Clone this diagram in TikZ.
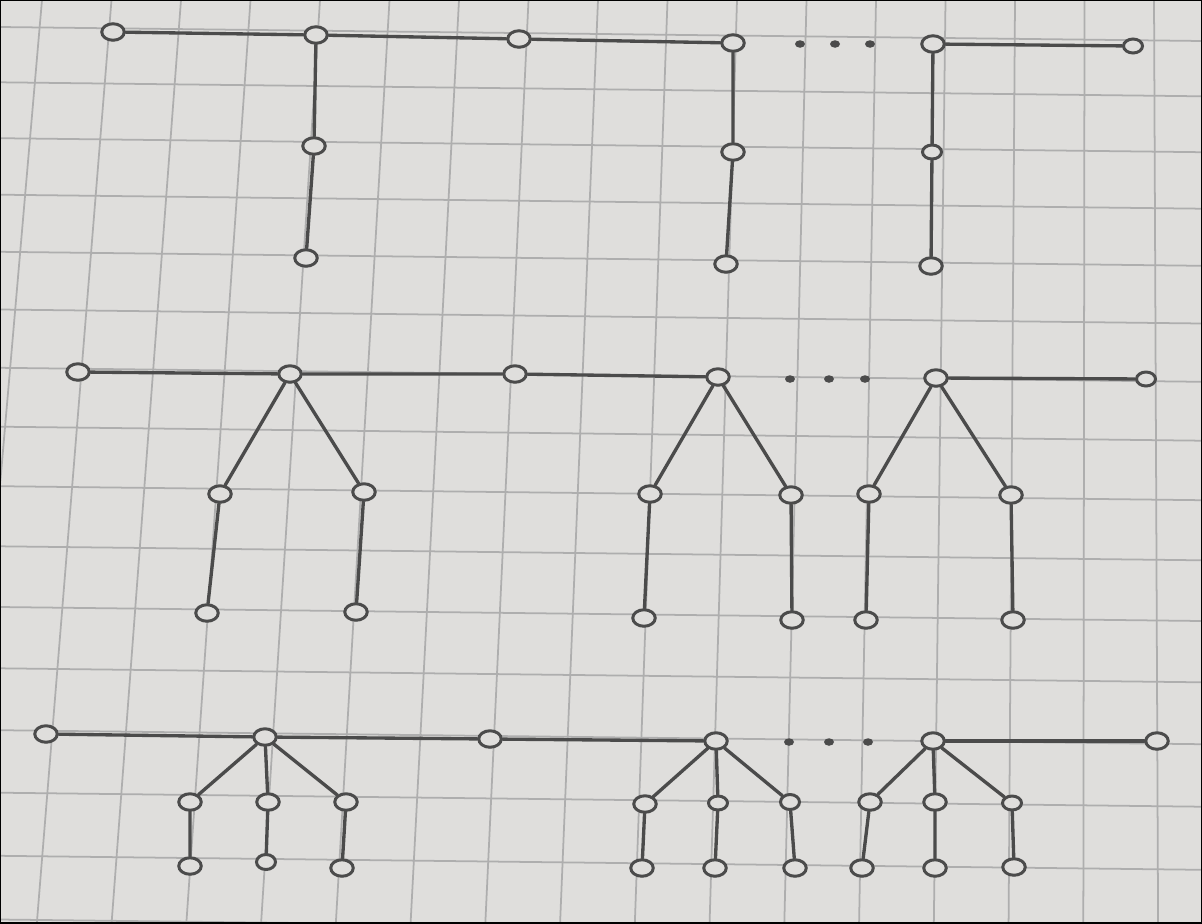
\documentclass[tikz,border=0pt]{standalone}
\usetikzlibrary{shapes.geometric}

\definecolor{paper}{HTML}{DFDEDC}
\definecolor{gridgray}{HTML}{AEAEAE}
\definecolor{pencil}{HTML}{4B4B4B}

\tikzset{
  vtx/.style={ellipse, draw=pencil, line width=1.7pt, fill=paper,
    minimum width=0.45cm, minimum height=0.33cm, inner sep=0pt},
  inkdot/.style={ellipse, fill=pencil, minimum width=0.2cm,
    minimum height=0.15cm, inner sep=0pt},
  link/.style={draw=pencil, line width=1.9pt, line cap=round},
  gridline/.style={draw=gridgray, line width=1pt},
}

\begin{document}
\begin{tikzpicture}[x=0.02cm, y=-0.02cm]

  % -- Paper and grid --
  \useasboundingbox (0,0) rectangle (1202,923);
  \fill[paper] (0,0) rectangle (1202,923);
  \begin{scope}
    \clip (0,0) rectangle (1202,923);
    \foreach \k in {0,...,17} {
      \pgfmathsetmacro\xt{42+69.5*\k}
      \pgfmathsetmacro\xb{\xt+923*(-0.09+0.09*\xt/1100)}
      \draw[gridline] (\xt,0) -- (\xb,923);
    }
    \foreach \k in {0,...,16} {
      \pgfmathsetmacro\yl{27+55*\k+0.3*\k*\k}
      \pgfmathsetmacro\yr{\yl+14}
      \draw[gridline] (0,\yl) -- (1202,\yr);
    }
  \end{scope}
  \draw[black, line width=1.2pt] (0,0) rectangle (1202,923);

  % -- Row 1: spine with paths of length two --
  \node[vtx] (a1) at (113,32) {};
  \node[vtx] (a2) at (316,35) {};
  \node[vtx] (a3) at (519,39) {};
  \node[vtx] (a4) at (733,43) {};
  \node[vtx] (a5) at (933,44) {};
  \node[vtx, minimum width=0.38cm, minimum height=0.28cm] (a6) at (1133,46) {};
  \node[vtx] (a21) at (314,146) {};
  \node[vtx] (a22) at (306,258) {};
  \node[vtx] (a41) at (733,152) {};
  \node[vtx] (a42) at (726,264) {};
  \node[vtx, minimum width=0.38cm, minimum height=0.28cm] (a51) at (932,152) {};
  \node[vtx] (a52) at (931,266) {};
  \foreach \x [count=\i] in {800,835,870}
    \node[inkdot] (ad\i) at (\x,44) {};

  \draw[link] (a1) -- (a2) -- (a3) -- (a4);
  \draw[link] (a5) -- (a6);
  \draw[link] (a2) -- (a21) -- (a22);
  \draw[link] (a4) -- (a41) -- (a42);
  \draw[link] (a5) -- (a51) -- (a52);

  % -- Row 2: spine with two branches --
  \node[vtx] (b1) at (78,372) {};
  \node[vtx] (b2) at (290,374) {};
  \node[vtx] (b3) at (515,374) {};
  \node[vtx] (b4) at (718,377) {};
  \node[vtx] (b5) at (936,378) {};
  \node[vtx, minimum width=0.38cm, minimum height=0.28cm] (b6) at (1146,379) {};
  \node[vtx] (b21) at (220,494) {};
  \node[vtx] (b22) at (364,492) {};
  \node[vtx] (b211) at (207,613) {};
  \node[vtx] (b221) at (356,612) {};
  \node[vtx] (b41) at (650,494) {};
  \node[vtx] (b42) at (791,495) {};
  \node[vtx] (b411) at (644,618) {};
  \node[vtx] (b421) at (792,620) {};
  \node[vtx] (b51) at (869,494) {};
  \node[vtx] (b52) at (1011,495) {};
  \node[vtx] (b511) at (866,620) {};
  \node[vtx] (b521) at (1013,620) {};
  \foreach \x [count=\i] in {790,829,865}
    \node[inkdot] (bd\i) at (\x,379) {};

  \draw[link] (b1) -- (b2) -- (b3) -- (b4);
  \draw[link] (b5) -- (b6);
  \foreach \r in {b2,b4,b5} {
    \draw[link] (\r) -- (\r1) -- (\r11);
    \draw[link] (\r) -- (\r2) -- (\r21);
  }

  % -- Row 3: spine with three branches --
  \node[vtx] (c1) at (46,734) {};
  \node[vtx] (c2) at (265,737) {};
  \node[vtx] (c3) at (490,739) {};
  \node[vtx] (c4) at (716,741) {};
  \node[vtx] (c5) at (933,741) {};
  \node[vtx] (c6) at (1157,741) {};
  \node[vtx] (c21) at (190,802) {};
  \node[vtx] (c22) at (268,802) {};
  \node[vtx] (c23) at (346,802) {};
  \node[vtx] (c211) at (190,866) {};
  \node[vtx, minimum width=0.38cm, minimum height=0.3cm] (c221) at (266,862) {};
  \node[vtx] (c231) at (342,868) {};
  \node[vtx] (c41) at (645,804) {};
  \node[vtx, minimum width=0.38cm, minimum height=0.28cm] (c42) at (718,803) {};
  \node[vtx, minimum width=0.38cm, minimum height=0.3cm] (c43) at (790,802) {};
  \node[vtx] (c411) at (642,868) {};
  \node[vtx] (c421) at (715,868) {};
  \node[vtx] (c431) at (795,868) {};
  \node[vtx] (c51) at (870,802) {};
  \node[vtx] (c52) at (935,802) {};
  \node[vtx, minimum width=0.38cm, minimum height=0.28cm] (c53) at (1012,803) {};
  \node[vtx] (c511) at (862,868) {};
  \node[vtx] (c521) at (935,868) {};
  \node[vtx] (c531) at (1014,867) {};
  \foreach \x [count=\i] in {789,829,868}
    \node[inkdot] (cd\i) at (\x,742) {};

  \draw[link] (c1) -- (c2) -- (c3) -- (c4);
  \draw[link] (c5) -- (c6);
  \foreach \r in {c2,c4,c5} {
    \draw[link] (\r) -- (\r1) -- (\r11);
    \draw[link] (\r) -- (\r2) -- (\r21);
    \draw[link] (\r) -- (\r3) -- (\r31);
  }

\end{tikzpicture}
\end{document}
